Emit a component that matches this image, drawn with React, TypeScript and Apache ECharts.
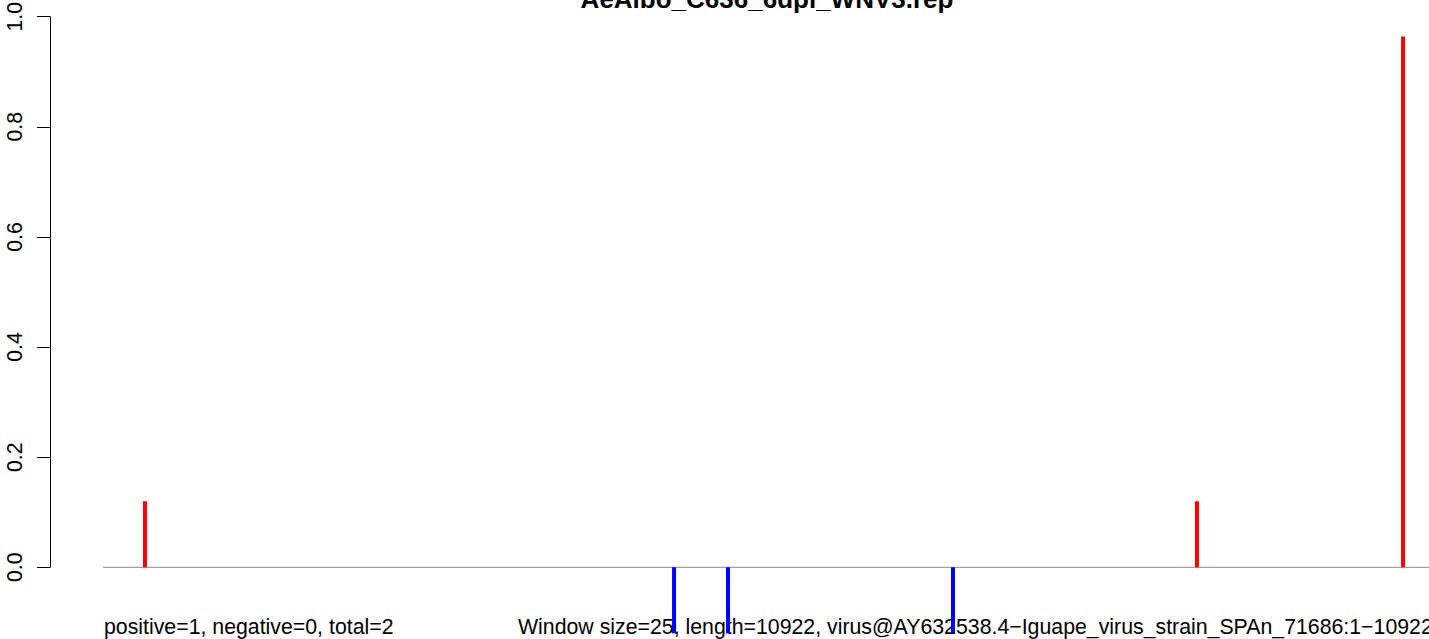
import React, { useEffect, useRef } from "react";
import * as echarts from "echarts";

const TITLE = "AeAlbo_C636_6dpi_WNV3.rep";
const GENOME_LENGTH = 10922;
const positivePositions = [345, 8998, 10693];
const positiveValues = [0.12, 0.12, 0.964];
const negativePositions = [4697, 5141, 6991];
const negativeValues = [-0.12, -0.12, -0.12];
const yTicks = [0, 0.2, 0.4, 0.6, 0.8, 1.0];
const leftNote = "positive=1, negative=0, total=2";
const rightNote =
  "Window size=25, length=10922, virus@AY632538.4\u2212Iguape_virus_strain_SPAn_71686:1\u221210922";

const FONT = '"Liberation Sans", Arial, Helvetica, sans-serif';

export default function App() {
  const ref = useRef<HTMLDivElement>(null);
  useEffect(() => {
    if (!ref.current) return;
    const chart = echarts.init(ref.current, null, { renderer: "svg" });
    const span = GENOME_LENGTH - 1;
    const xMin = 1 - 0.04 * span;
    const xMax = GENOME_LENGTH + 0.04 * span;
    chart.setOption({
      animation: false,
      backgroundColor: "#ffffff",
      grid: {
        left: 50,
        top: 16.7,
        height: 550.6,
        width: 1434,
        containLabel: false,
        outerBoundsMode: "none",
      },
      xAxis: {
        type: "value",
        min: xMin,
        max: xMax,
        axisLine: { show: false, onZero: false },
        axisTick: { show: false },
        axisLabel: { show: false },
        splitLine: { show: false },
      },
      yAxis: {
        type: "value",
        min: yTicks[0],
        max: yTicks[yTicks.length - 1],
        interval: 0.2,
        axisLine: { show: true, onZero: false, lineStyle: { color: "#000", width: 1 } },
        axisTick: { show: true, length: 13, lineStyle: { color: "#000", width: 1 } },
        axisLabel: {
          show: true,
          rotate: 90,
          margin: 25,
          fontSize: 21.3,
          color: "#000",
          fontFamily: FONT,
          formatter: (v: number) => v.toFixed(1),
        },
        splitLine: { show: false },
      },
      series: [
        {
          type: "line",
          data: [
            [1, 0],
            [GENOME_LENGTH, 0],
          ],
          symbol: "none",
          lineStyle: { color: "#a0a0a0", width: 1.2 },
          silent: true,
          z: 1,
        },
        {
          type: "bar",
          data: positivePositions.map((p, i) => [p, positiveValues[i]]),
          barWidth: 4,
          barGap: "-100%",
          itemStyle: { color: "#ff0000" },
          clip: false,
          z: 2,
        },
        {
          type: "bar",
          data: negativePositions.map((p, i) => [p, negativeValues[i]]),
          barWidth: 4,
          barGap: "-100%",
          itemStyle: { color: "#0000ff" },
          clip: false,
          z: 2,
        },
      ],
      graphic: [
        {
          type: "text",
          x: 767,
          y: -1,
          style: {
            text: TITLE,
            font: `bold 26px ${FONT}`,
            fill: "#000",
            textAlign: "center",
            textVerticalAlign: "middle",
          },
          z: 10,
        },
        {
          type: "text",
          x: 104,
          y: 627,
          style: {
            text: leftNote,
            font: `21.3px ${FONT}`,
            fill: "#000",
            textAlign: "left",
            textVerticalAlign: "middle",
          },
          z: 0,
        },
        {
          type: "text",
          x: 518,
          y: 627,
          style: {
            text: rightNote,
            font: `21.3px ${FONT}`,
            fill: "#000",
            textAlign: "left",
            textVerticalAlign: "middle",
          },
          z: 0,
        },
      ],
    });
    return () => chart.dispose();
  }, []);
  return (
    <div
      ref={ref}
      style={{ position: "absolute", left: 0, top: 0, width: 1429, height: 639, background: "#fff" }}
    />
  );
}
